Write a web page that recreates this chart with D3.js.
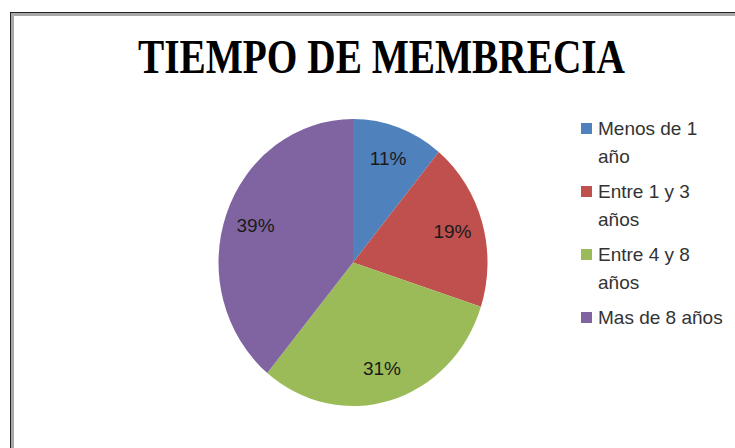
<!DOCTYPE html>
<html>
<head>
<meta charset="utf-8">
<script src="https://cdn.jsdelivr.net/npm/d3@7"></script>
<style>
  body { margin: 0; background: #fff; }
</style>
</head>
<body>
<div id="chart"></div>
<script>
// data
var categories = ["Menos de 1 año", "Entre 1 y 3 años", "Entre 4 y 8 años", "Mas de 8 años"];
var legendLines = [["Menos de 1", "año"], ["Entre 1 y 3", "años"], ["Entre 4 y 8", "años"], ["Mas de 8 años"]];
var values = [11, 19, 31, 39];
var colors = ["#4F81BD", "#C0504D", "#9BBB59", "#8064A2"];

var width = 735, height = 448;

var svg = d3.select("#chart")
  .append("svg")
  .attr("width", width)
  .attr("height", height);

// frame (right and bottom edges fall outside the picture)
svg.append("rect")
  .attr("x", 12.5).attr("y", 14.5)
  .attr("width", 800).attr("height", 500)
  .style("fill", "none").style("stroke", "#a8a8a8").style("stroke-width", 3);
svg.append("rect")
  .attr("x", 10.5).attr("y", 12.5)
  .attr("width", 800).attr("height", 500)
  .style("fill", "none").style("stroke", "#222").style("stroke-width", 1);

// title
svg.append("text")
  .attr("x", 381.5)
  .attr("y", 73)
  .attr("text-anchor", "middle")
  .attr("font-family", "Liberation Serif")
  .attr("font-weight", "bold")
  .attr("font-size", "48px")
  .attr("textLength", 487)
  .attr("lengthAdjust", "spacingAndGlyphs")
  .text("TIEMPO DE MEMBRECIA");

// pie (slightly taller than wide, like the original)
var cx = 353, cy = 262.5, r = 134.5, sy = 143.5 / 134.5;

var pie = d3.pie().sort(null).value(function(d) { return d; });
var arcs = pie(values);
var arc = d3.arc().innerRadius(0).outerRadius(r);
var labelArc = d3.arc().innerRadius(r * 0.77).outerRadius(r * 0.77);

svg.append("g")
  .attr("transform", "translate(" + cx + "," + cy + ") scale(1," + sy + ")")
  .selectAll("path")
  .data(arcs)
  .enter()
  .append("path")
    .attr("d", arc)
    .style("fill", function(d, i) { return colors[i]; });

svg.append("g")
  .selectAll("text")
  .data(arcs)
  .enter()
  .append("text")
    .attr("x", function(d) { return cx + labelArc.centroid(d)[0]; })
    .attr("y", function(d) { return cy + labelArc.centroid(d)[1] * sy; })
    .attr("dy", "0.35em")
    .attr("text-anchor", "middle")
    .attr("font-family", "Liberation Sans")
    .attr("font-size", "19px")
    .attr("fill", "#1a1a1a")
    .text(function(d) { return d.data + "%"; });

// legend
var legend = svg.append("g")
  .selectAll("g")
  .data(categories)
  .enter()
  .append("g")
    .attr("transform", function(d, i) { return "translate(581," + (135 + i * 63) + ")"; });

legend.append("rect")
  .attr("x", 0).attr("y", -12)
  .attr("width", 11).attr("height", 11)
  .style("fill", function(d, i) { return colors[i]; });

legend.append("text")
  .attr("x", 17)
  .attr("y", 0)
  .attr("font-family", "Liberation Sans")
  .attr("font-size", "19px")
  .attr("fill", "#333")
  .selectAll("tspan")
  .data(function(d, i) { return legendLines[i]; })
  .enter()
  .append("tspan")
    .attr("x", 17)
    .attr("dy", function(d, j) { return j === 0 ? 0 : 28; })
    .text(function(d) { return d; });
</script>
</body>
</html>
